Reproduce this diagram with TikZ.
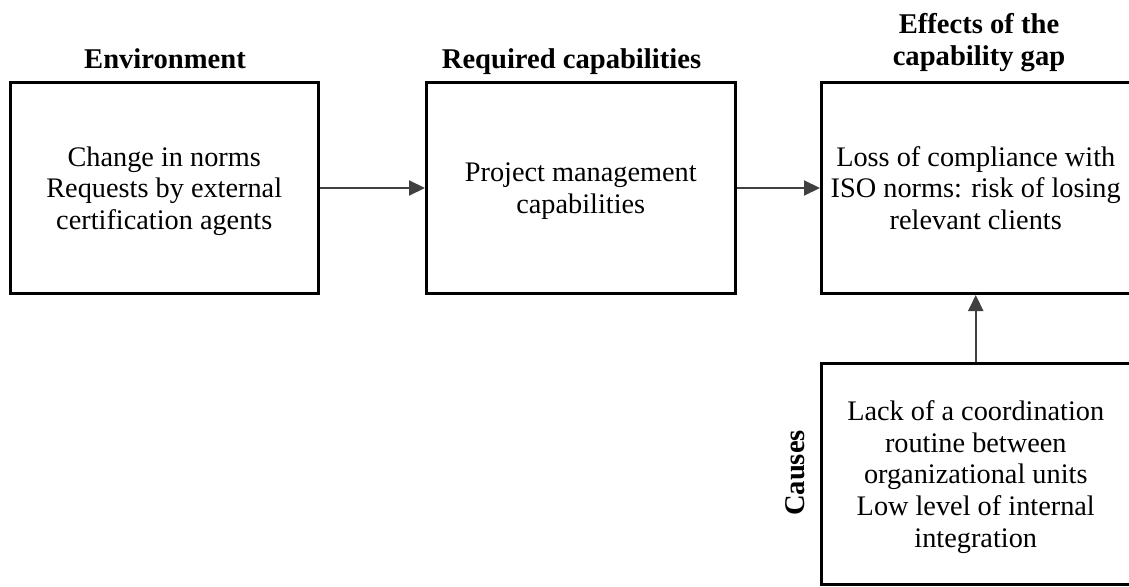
\documentclass[tikz,border=0pt]{standalone}
\usepackage{fontspec}
\setmainfont{Liberation Serif}
\usetikzlibrary{arrows.meta}
\definecolor{arrowgray}{HTML}{404040}
\begin{document}
\begin{tikzpicture}[x=1pt,y=-1pt,
  box/.style={draw=black, line width=3pt, rectangle, minimum width=308.5pt,
    minimum height=211pt, align=center, inner sep=0pt, text depth=0pt,
    font=\fontsize{28.3}{31.7}\selectfont},
  heading/.style={align=center, inner sep=0pt,
    font=\fontsize{28.6}{31.7}\selectfont\bfseries},
  link/.style={draw=arrowgray, line width=2pt,
    -{Triangle[length=16pt,width=15pt,fill=arrowgray]}}]
  \useasboundingbox (0,0) rectangle (1129,586);
  \begin{scope}
  \clip (0,0) rectangle (1129,586);
  % boxes
  \node[box] (env) at (164.25,188) {Change in norms\\Requests by external\\certification agents};
  \node[box] (req) at (580.75,188) {Project management\\capabilities};
  \node[box] (eff) at (975.75,188) {Loss of compliance with\\ISO norms: risk of losing\\relevant clients};
  \node[box, minimum height=220.5pt] (cau) at (975.75,474)
    {Lack of a coordination\\routine between\\organizational units\\Low level of internal\\integration};
  \end{scope}
  % headings
  \node[heading, anchor=base] (henv) at (165,68.3) {Environment};
  \node[heading, anchor=base] (hreq) at (571.5,68.3) {Required capabilities};
  \node[heading, anchor=base] (heff) at (979,65.3) {Effects of the\\capability gap};
  \node[heading, rotate=90] (hcau) at (795,473) {Causes};
  % connectors
  \draw[link] (env.east) -- (req.west);
  \draw[link] (req.east) -- (eff.west);
  \draw[link] (cau.north) -- (eff.south);
\end{tikzpicture}
\end{document}
